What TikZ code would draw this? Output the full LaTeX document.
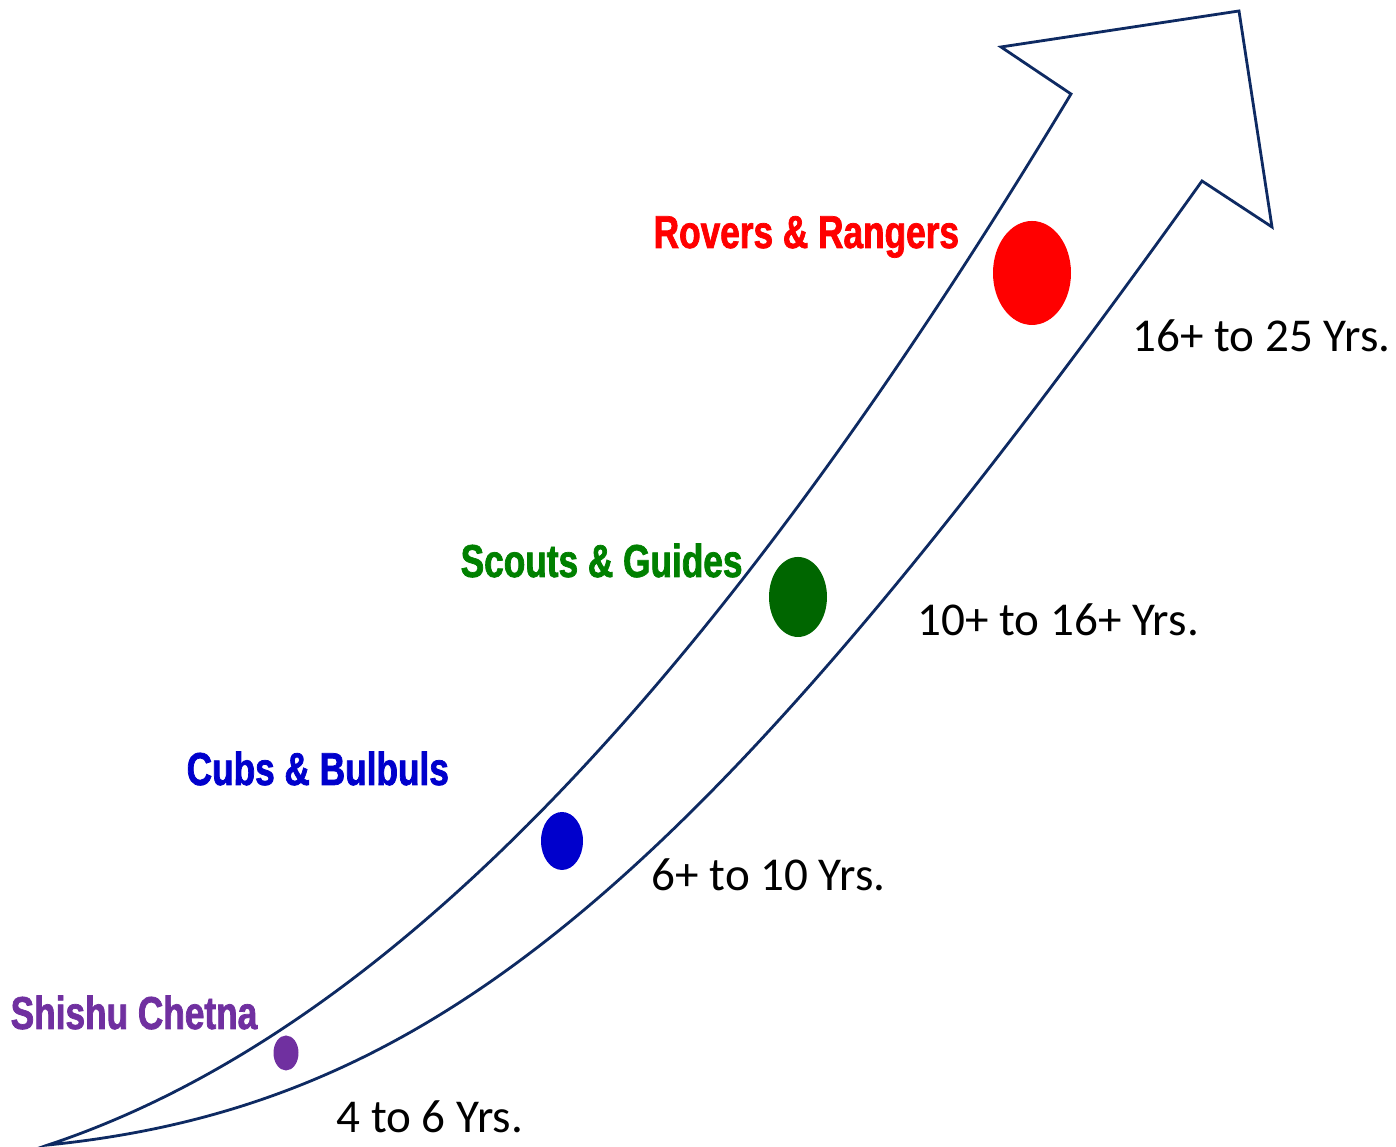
\documentclass[tikz,border=0pt]{standalone}
\usepackage{fontspec}
\usepackage{tikz}
\setmainfont{Carlito}
\newfontfamily\grpfont[FakeStretch=0.765, BoldFeatures={FakeBold=1.6}]{Liberation Sans}
\definecolor{arrowblue}{HTML}{0E2A62}
\definecolor{shishu}{HTML}{7030A0}
\definecolor{cubs}{HTML}{0000CC}
\definecolor{scouts}{HTML}{008000}
\definecolor{scoutdot}{HTML}{006600}
\definecolor{rovers}{HTML}{FF0000}

\begin{document}
\begin{tikzpicture}[grp/.style={anchor=base west, inner sep=0pt, font=\grpfont\bfseries\fontsize{13.1}{15}\selectfont},
    age/.style={anchor=base west, inner sep=0pt, font=\fontsize{13.4}{16}\selectfont}]
    \useasboundingbox (0, 0) rectangle (13.96, 11.47);
    %the arrow
    \draw[arrowblue, line width=0.8pt, line join=miter] (0.48, 0.02) .. controls (3.79, 1.12) and (7.07, 4.48) .. (10.71, 10.53)
        -- (10.01, 11.00) -- (12.39, 11.36) -- (12.72, 9.20) -- (12.02, 9.66)
        .. controls (6.99, 2.62) and (4.34, 0.41) .. cycle;
    %the dots
    \fill[shishu] (2.86, 0.94) ellipse (0.125 and 0.175);
    \fill[cubs] (5.62, 3.06) ellipse (0.21 and 0.29);
    \fill[scoutdot] (7.98, 5.50) ellipse (0.29 and 0.40);
    \fill[rovers] (10.32, 8.74) ellipse (0.39 and 0.52);
    %the groups
    \path (0.10, 1.18) node[grp, shishu] (shishuname) {Shishu Chetna}
        (1.86, 3.62) node[grp, cubs] (cubsname) {Cubs \& Bulbuls}
        (4.60, 5.70) node[grp, scouts] (scoutsname) {Scouts \& Guides}
        (6.53, 8.99) node[grp, rovers] (roversname) {Rovers \& Rangers};
    %the ages
    \path (3.36, 0.14) node[age] (shishuage) {4 to 6 Yrs.}
        (6.51, 2.56) node[age] (cubsage) {6+ to 10 Yrs.}
        (9.17, 5.11) node[age] (scoutsage) {10+ to 16+ Yrs.}
        (11.32, 7.95) node[age] (roversage) {16+ to 25 Yrs.};
\end{tikzpicture}
\end{document}
